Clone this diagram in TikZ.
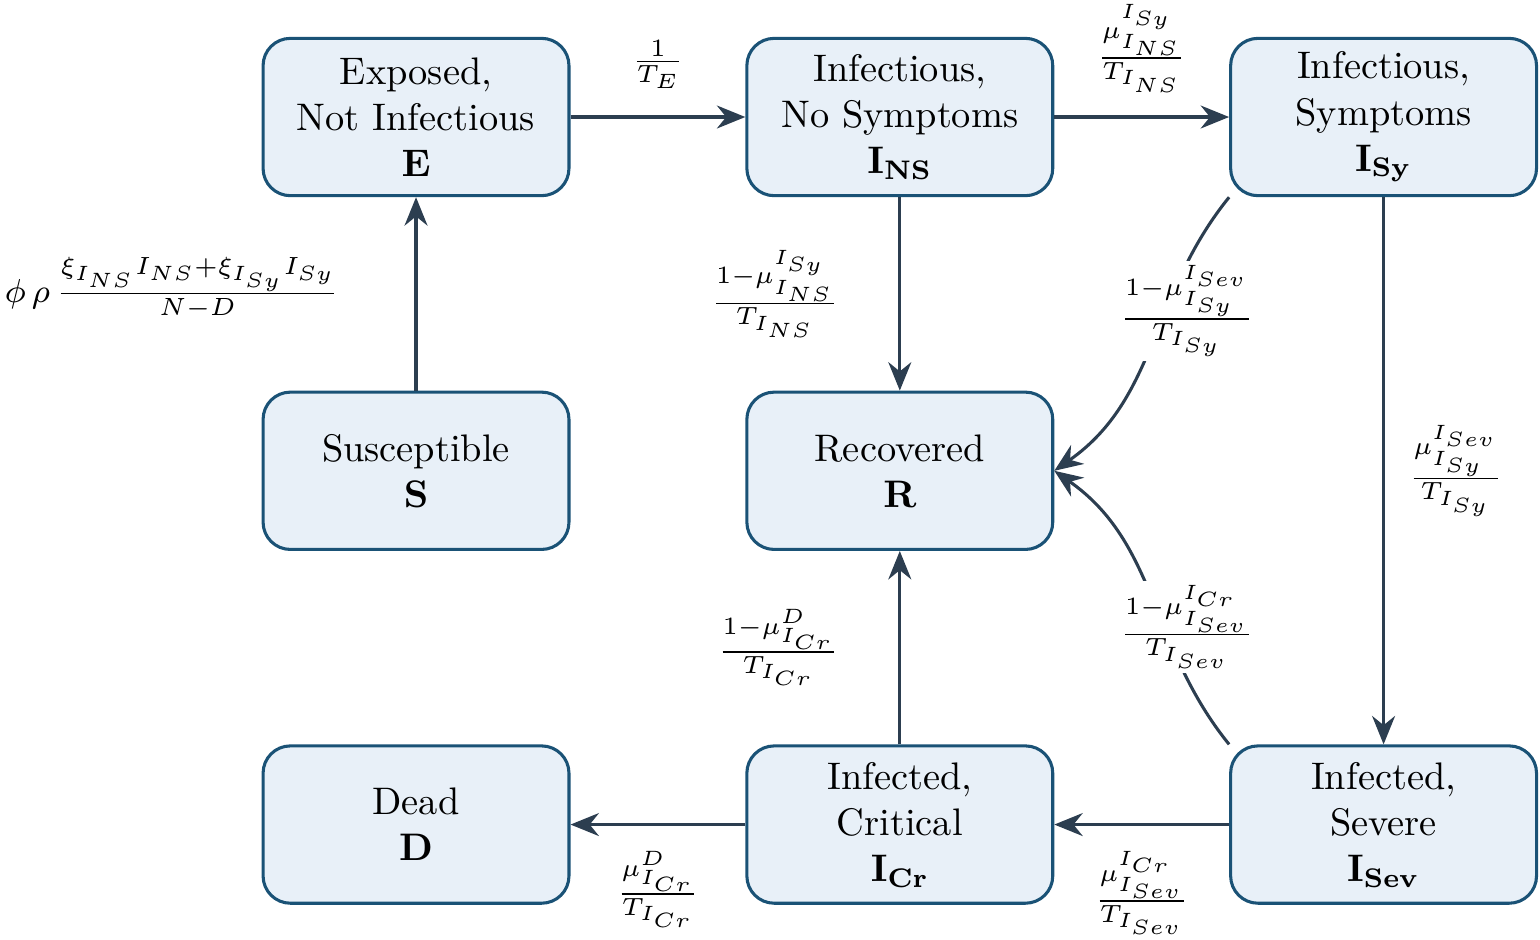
\documentclass[tikz,border=0pt]{standalone}
\usepackage{amsmath,amssymb}
\usetikzlibrary{arrows.meta, positioning}
\definecolor{boxline}{HTML}{1A5276}
\definecolor{boxfill}{HTML}{E8F0F8}
\definecolor{flowc}{HTML}{2C3E50}
\tikzset{
  compbox/.style = {draw=boxline, thick, rounded corners=2.5mm, fill=boxfill,
                    minimum width=2.8cm, minimum height=1.44cm,
                    align=center, inner sep=2pt},
  flow/.style    = {-{Stealth[length=2.6mm, width=2.1mm]}, thick, draw=flowc},
  ratelbl/.style = {font=\footnotesize, inner sep=1pt, scale=1.08, transform shape},
}

\begin{document}
\begin{tikzpicture}[node distance=1.77cm and 1.6cm]
    \useasboundingbox (-3.808,-7.524) rectangle (10.288,1.071);
    % Row 1 : exposed and infectious
    \node[compbox] at (0,0)          (exp)  {Exposed,\\Not Infectious\\$\mathbf{E}$};
    \node[compbox, right=of exp]     (ins)  {Infectious,\\No Symptoms\\$\mathbf{I}_{\mathbf{NS}}$};
    \node[compbox, right=of ins]     (isy)  {Infectious,\\Symptoms\\$\mathbf{I}_{\mathbf{Sy}}$};
    % Row 2 : susceptible and recovered
    \node[compbox, below=of exp]     (sus)  {Susceptible\\$\mathbf{S}$};
    \node[compbox, below=of ins]     (rec)  {Recovered\\$\mathbf{R}$};
    % Row 3 : hospital and dead
    \node[compbox, below=of sus]     (dead) {Dead\\$\mathbf{D}$};
    \node[compbox, below=of rec]     (icr)  {Infected,\\Critical\\$\mathbf{I}_{\mathbf{Cr}}$};
    \node[compbox, right=of icr]     (isev) {Infected,\\Severe\\$\mathbf{I}_{\mathbf{Sev}}$};

    \draw[flow] (sus) -- node[ratelbl, left=6.5mm, yshift=0.05cm]
      {$\phi\,\rho\,\frac{\xi_{I_{NS}}I_{NS}+\xi_{I_{Sy}}I_{Sy}}{N-D}$} (exp);
    \draw[flow] (exp) -- node[ratelbl, above=6pt] {$\frac{1}{T_E}$} (ins);
    \draw[flow] (ins) -- node[ratelbl, above=5pt]
      {$\frac{\mu^{I_{Sy}}_{I_{NS}}}{T_{I_{NS}}}$} (isy);
    \draw[flow] (ins) -- node[ratelbl, left=5mm]
      {$\frac{1-\mu^{I_{Sy}}_{I_{NS}}}{T_{I_{NS}}}$} (rec);
    \draw[flow] (isy) -- node[ratelbl, right=5pt]
      {$\frac{\mu^{I_{Sev}}_{I_{Sy}}}{T_{I_{Sy}}}$} (isev);
    \draw[flow] (isev) -- node[ratelbl, below=5.5pt]
      {$\frac{\mu^{I_{Cr}}_{I_{Sev}}}{T_{I_{Sev}}}$} (icr);
    \draw[flow] (icr) -- node[ratelbl, below=5.5pt]
      {$\frac{\mu^{D}_{I_{Cr}}}{T_{I_{Cr}}}$} (dead);
    \draw[flow] (icr) -- node[ratelbl, left=5mm]
      {$\frac{1-\mu^{D}_{I_{Cr}}}{T_{I_{Cr}}}$} (rec);
    \draw[flow] (isy.south west) to[out=231, in=35]
      node[ratelbl, fill=white, pos=0.35, xshift=0.15cm, yshift=-0.09cm]
      {$\frac{1-\mu^{I_{Sev}}_{I_{Sy}}}{T_{I_{Sy}}}$} (rec.east);
    \draw[flow] (isev.north west) to[out=129, in=-35]
      node[ratelbl, fill=white, pos=0.35, xshift=0.15cm, yshift=0.12cm]
      {$\frac{1-\mu^{I_{Cr}}_{I_{Sev}}}{T_{I_{Sev}}}$} (rec.east);
\end{tikzpicture}
\end{document}
